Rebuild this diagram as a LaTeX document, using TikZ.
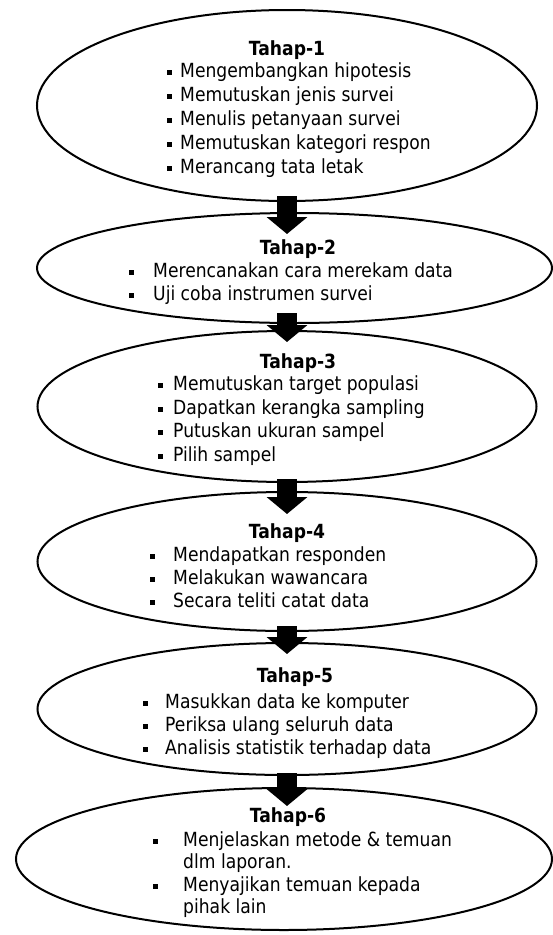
\documentclass[tikz,border=0pt]{standalone}
\usepackage{fontspec}
\setmainfont{DejaVu Sans}[FakeStretch=0.88]
\usetikzlibrary{shapes.geometric,arrows.meta,calc}
\tikzset{
  stage/.style={ellipse, draw, line width=2pt, fill=white, inner sep=0pt},
  stagetitle/.style={font=\fontsize{19.5}{22}\selectfont\bfseries, anchor=base, inner sep=0pt},
  itemtext/.style={font=\fontsize{19.5}{22}\selectfont, anchor=base west, inner sep=0pt},
  bulletsq/.style={fill, minimum size=5pt, inner sep=0pt},
  blockarrow/.style={line width=20pt, -{Triangle[width=40pt 0,length=17pt 0]}},
}
\newcommand\itm[5]{%
  \node[bulletsq] (#1b) at (#2,#4+1) {};
  \node[itemtext] (#1) at (#3,#4+6) {#5};}
\newcommand\cont[4]{%
  \node[itemtext] (#1) at (#2,#3+6) {#4};}
\begin{document}
\begin{tikzpicture}[x=1pt,y=-1pt]
\useasboundingbox (0,0) rectangle (553,935);
% ellipses
\node[stage, minimum width=500pt, minimum height=191pt] (e1) at (287,105.5) {};
\node[stage, minimum width=515pt, minimum height=110pt] (e2) at (294.5,268) {};
\node[stage, minimum width=499pt, minimum height=151pt] (e3) at (287,406.5) {};
\node[stage, minimum width=499pt, minimum height=139pt] (e4) at (287,561.5) {};
\node[stage, minimum width=499pt, minimum height=132pt] (e5) at (287,709) {};
\node[stage, minimum width=536pt, minimum height=142pt] (e6) at (284,859) {};
% stage 1
\node[stagetitle] (e1t) at (287,49+6) {Tahap-1};
\itm{e1a}{169}{180}{71}{Mengembangkan hipotesis}
\itm{e1c}{169}{180}{95}{Memutuskan jenis survei}
\itm{e1d}{169}{180}{119}{Menulis petanyaan survei}
\itm{e1e}{169}{180}{143}{Memutuskan kategori respon}
\itm{e1f}{169}{180}{167}{Merancang tata letak}
% stage 2
\node[stagetitle] (e2t) at (298,248+6) {Tahap-2};
\itm{e2a}{131}{153}{271}{Merencanakan cara merekam data}
\itm{e2c}{131}{153}{294}{Uji coba instrumen survei}
% stage 3
\node[stagetitle] (e3t) at (298,362+6) {Tahap-3};
\itm{e3a}{160}{173}{384}{Memutuskan target populasi}
\itm{e3c}{160}{173}{408}{Dapatkan kerangka sampling}
\itm{e3d}{160}{173}{431}{Putuskan ukuran sampel}
\itm{e3e}{160}{173}{455}{Pilih sampel}
% stage 4
\node[stagetitle] (e4t) at (287,532+6) {Tahap-4};
\itm{e4a}{152}{173}{555}{Mendapatkan responden}
\itm{e4c}{152}{173}{578}{Melakukan wawancara}
\itm{e4d}{152}{173}{601}{Secara teliti catat data}
% stage 5
\node[stagetitle] (e5t) at (295,676+6) {Tahap-5};
\itm{e5a}{145}{165}{702}{Masukkan data ke komputer}
\itm{e5c}{145}{165}{725}{Periksa ulang seluruh data}
\itm{e5d}{145}{165}{748}{Analisis statistik terhadap data}
% stage 6
\node[stagetitle] (e6t) at (288,816+6) {Tahap-6};
\itm{e6a}{155}{183}{840}{Menjelaskan metode \& temuan}
\cont{e6c}{183}{862}{dlm laporan.}
\itm{e6d}{155}{183}{885}{Menyajikan temuan kepada}
\cont{e6e}{183}{907}{pihak lain}
% arrows
\coordinate (ax) at (287,0);
\draw[blockarrow] ($(ax |- e1.south)+(0,-6)$) -- ($(ax |- e2.north)+(0,22)$);
\draw[blockarrow] ($(ax |- e2.south)+(0,-11)$) -- ($(ax |- e3.north)+(0,12)$);
\draw[blockarrow] ($(ax |- e3.south)+(0,-4)$) -- ($(ax |- e4.north)+(0,23)$);
\draw[blockarrow] ($(ax |- e4.south)+(0,-6)$) -- ($(ax |- e5.north)+(0,12)$);
\draw[blockarrow] ($(ax |- e5.south)+(0,-3)$) -- ($(ax |- e6.north)+(0,19)$);
\end{tikzpicture}
\end{document}
